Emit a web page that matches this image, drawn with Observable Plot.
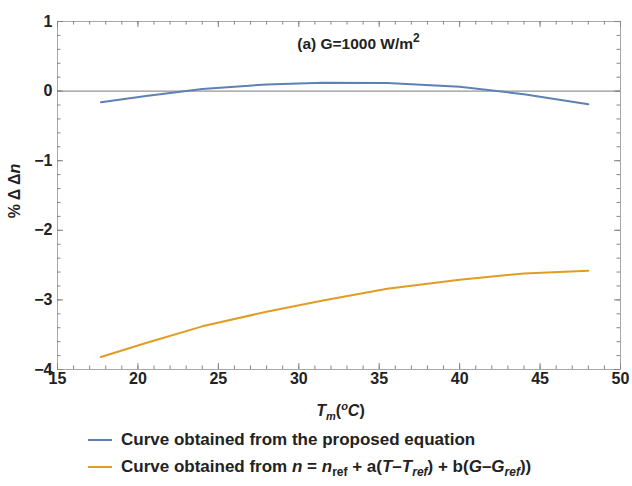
<!DOCTYPE html>
<html><head><meta charset="utf-8">
<script src="https://cdn.jsdelivr.net/npm/d3@7"></script>
<script src="https://cdn.jsdelivr.net/npm/@observablehq/plot@0.6"></script>
<style>
body{margin:0;background:#fff;font-family:"Liberation Sans",Arial,sans-serif;}
#chart{width:632px;height:486px;position:relative;overflow:hidden;}
.legend{position:absolute;left:88px;font-weight:bold;font-size:17px;color:#222;}
.row{position:absolute;left:0;white-space:nowrap;display:flex;align-items:center;}
.sw{display:inline-block;width:24px;height:0;border-top:2px solid;margin-right:9px;}
.legend i{font-style:italic;}
.legend sub{font-size:12px;position:relative;top:5px;line-height:0;}
</style></head>
<body><div id="chart"></div>
<script>
// ---- data ----
const temperature = [17.7, 20.5, 24, 28, 31.5, 35.5, 40, 44, 48];
const proposedCurve = [-0.16, -0.07, 0.03, 0.096, 0.12, 0.115, 0.062, -0.045, -0.19];
const linearCurve = [-3.82, -3.62, -3.38, -3.17, -3.01, -2.84, -2.71, -2.62, -2.58];
const seriesNames = ["Curve obtained from the proposed equation", "Curve obtained from linear equation"];
const seriesColors = ["#5E81B5", "#E19C24"];
const xDomain = [15, 50];
const yDomain = [-4, 1];
const xTicks = [15, 20, 25, 30, 35, 40, 45, 50];
const yTicks = [-4, -3, -2, -1, 0, 1];
const xMinorTicks = d3.range(15, 50.001, 1);
const yMinorTicks = d3.range(-4, 1.001, 0.2).map(v => +v.toFixed(2));

const rows = temperature.flatMap((t, i) => [
  {t, v: proposedCurve[i], s: seriesNames[0]},
  {t, v: linearCurve[i], s: seriesNames[1]}
]);

const W = 632, H = 426, mL = 57, mR = 12, mT = 21, mB = 57;
const innerW = W - mL - mR, innerH = H - mT - mB;
const pxPerX = innerW / (xDomain[1] - xDomain[0]);
const pxPerY = innerH / (yDomain[1] - yDomain[0]);
const tickColor = "#858585";
const fmt = d3.format("d");
const MAJ = 6, MIN = 3.5;

const xTickRows = [
  ...xMinorTicks.map(v => ({v, len: MIN})),
  ...xTicks.map(v => ({v, len: MAJ}))
];
const yTickRows = [
  ...yMinorTicks.map(v => ({v, len: MIN})),
  ...yTicks.map(v => ({v, len: MAJ}))
];

// inward ticks on all four frame edges, as short rules (length in pixels converted to data units)
const tickStyle = {stroke: tickColor, strokeWidth: 1};
const tickMarks = [
  Plot.ruleX(xTickRows, {...tickStyle, x: "v", y1: () => yDomain[0], y2: d => yDomain[0] + d.len / pxPerY}),
  Plot.ruleX(xTickRows, {...tickStyle, x: "v", y1: () => yDomain[1], y2: d => yDomain[1] - d.len / pxPerY}),
  Plot.ruleY(yTickRows, {...tickStyle, y: "v", x1: () => xDomain[0], x2: d => xDomain[0] + d.len / pxPerX}),
  Plot.ruleY(yTickRows, {...tickStyle, y: "v", x1: () => xDomain[1], x2: d => xDomain[1] - d.len / pxPerX})
];

const plot = Plot.plot({
  width: W, height: H,
  marginLeft: mL, marginRight: mR, marginTop: mT, marginBottom: mB,
  style: {fontFamily: "Liberation Sans, Arial, sans-serif", background: "#fff"},
  x: {domain: xDomain},
  y: {domain: yDomain},
  color: {domain: seriesNames, range: seriesColors},
  marks: [
    Plot.ruleY([0], {stroke: "#7a7a7a", strokeWidth: 1}),
    // tick labels
    Plot.axisX({anchor: "bottom", ticks: xTicks, tickSize: 0, tickPadding: 3, tickFormat: fmt, label: null,
      fontSize: 16, fontWeight: "bold", fill: "#222"}),
    Plot.axisY({anchor: "left", ticks: yTicks, tickSize: 0, tickPadding: 5, tickFormat: fmt, label: null,
      fontSize: 16, fontWeight: "bold", fill: "#222"}),
    Plot.frame({stroke: "#a8a8a8", strokeWidth: 1}),
    ...tickMarks,
    Plot.line(rows, {x: "t", y: "v", z: "s", stroke: "s", strokeWidth: 2})
  ]
});

const svg = d3.select(plot);
const cx = mL + innerW / 2;
const cy = mT + innerH / 2;
const ff = "Liberation Sans, Arial, sans-serif";
// title inside the frame
const tl = svg.append("text")
  .attr("x", cx + 20).attr("y", mT + 28)
  .attr("text-anchor", "middle")
  .attr("font-size", 15.5).attr("font-weight", "bold").attr("fill", "#222").attr("font-family", ff);
tl.append("tspan").text("(a) G=1000 W/m");
tl.append("tspan").attr("font-size", 12).attr("dy", -7).text("2");
// x-axis label: T_m(°C)
const xl = svg.append("text")
  .attr("x", cx + 2).attr("y", 416)
  .attr("text-anchor", "middle")
  .attr("font-size", 16).attr("font-weight", "bold").attr("fill", "#222").attr("font-family", ff);
xl.append("tspan").attr("font-style", "italic").text("T");
xl.append("tspan").attr("font-style", "italic").attr("font-size", 11).attr("dy", 4).text("m");
xl.append("tspan").attr("dy", -4).text("(");
xl.append("tspan").attr("font-style", "italic").attr("font-size", 11).attr("dy", -6).text("o");
xl.append("tspan").attr("font-style", "italic").attr("dy", 6).text("C");
xl.append("tspan").text(")");
// y-axis label: % Δ Δn
const yl = svg.append("text")
  .attr("transform", `translate(20,${cy - 4}) rotate(-90)`)
  .attr("text-anchor", "middle")
  .attr("font-size", 16).attr("font-weight", "bold").attr("fill", "#222").attr("font-family", ff);
yl.append("tspan").text("% Δ Δ");
yl.append("tspan").attr("font-style", "italic").text("n");

const chart = document.getElementById("chart");
chart.appendChild(plot);

// legend below the plot
const legend = document.createElement("div");
legend.className = "legend";
legend.style.top = H + "px";
legend.innerHTML =
  `<div class="row" style="top:4px"><span class="sw" style="border-color:${seriesColors[0]}"></span>${seriesNames[0]}</div>` +
  `<div class="row" style="top:31px"><span class="sw" style="border-color:${seriesColors[1]}"></span>Curve obtained from&nbsp;<i>n</i>&nbsp;=&nbsp;<i>n</i><sub>ref</sub>&nbsp;+ a(<i>T</i>–<i>T</i><sub><i>ref</i></sub>) + b(<i>G</i>–<i>G</i><sub><i>ref</i></sub>))</div>`;
chart.appendChild(legend);
</script>
</body></html>
